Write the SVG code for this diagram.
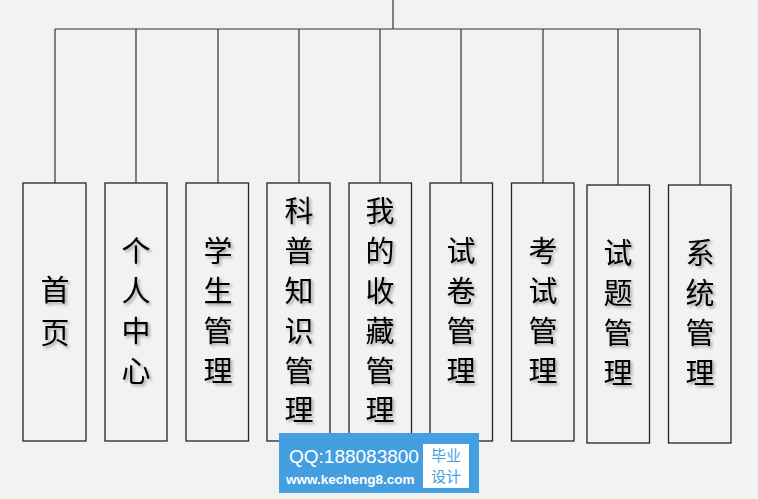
<svg xmlns="http://www.w3.org/2000/svg" width="758" height="499" viewBox="0 0 758 499">
<defs>
<filter id="sh" x="-30%" y="-30%" width="160%" height="160%">
<feGaussianBlur in="SourceAlpha" stdDeviation="1.5"/>
<feOffset dx="2" dy="2" result="b"/>
<feComponentTransfer><feFuncA type="linear" slope="0.35"/></feComponentTransfer>
<feMerge><feMergeNode/><feMergeNode in="SourceGraphic"/></feMerge>
</filter>
</defs>
<style>
.box{fill:#f2f2f2;stroke:#222;stroke-width:1.3}
.lbl{font-family:"Noto Sans CJK SC","Noto Sans",sans-serif;font-size:29px;fill:#000;text-anchor:middle;filter:url(#sh)}
.ln{stroke:#333;stroke-width:1.2;fill:none}
.wm{font-family:"Noto Sans CJK SC",sans-serif;font-size:15px;fill:#449fe0;text-anchor:middle}
</style>
<rect width="758" height="499" fill="#f2f2f2"/>
<g id="connectors">
<path class="ln" d="M393,0V29M55,29H700M55,29V183M136,29V183M218,29V183M299,29V183M380,29V183M461,29V183M543,29V183M618,29V185M700,29V185"/>
</g>
<g id="n1"><rect class="box" x="23" y="183" width="63" height="258"/>
<text class="lbl" x="55"><tspan x="55" y="301">首</tspan><tspan x="55" y="344">页</tspan></text></g>
<g id="n2"><rect class="box" x="105" y="183" width="62" height="258"/>
<text class="lbl" x="136"><tspan x="136" y="262">个</tspan><tspan x="136" y="302">人</tspan><tspan x="136" y="342">中</tspan><tspan x="136" y="382">心</tspan></text></g>
<g id="n3"><rect class="box" x="186" y="183" width="62.5" height="258"/>
<text class="lbl"><tspan x="218" y="262">学</tspan><tspan x="218" y="302">生</tspan><tspan x="218" y="342">管</tspan><tspan x="218" y="382">理</tspan></text></g>
<g id="n4"><rect class="box" x="267" y="183" width="63" height="258"/>
<text class="lbl"><tspan x="299" y="222">科</tspan><tspan x="299" y="262">普</tspan><tspan x="299" y="302">知</tspan><tspan x="299" y="342">识</tspan><tspan x="299" y="382">管</tspan><tspan x="299" y="421">理</tspan></text></g>
<g id="n5"><rect class="box" x="349" y="183" width="62.5" height="258"/>
<text class="lbl"><tspan x="380" y="222">我</tspan><tspan x="380" y="262">的</tspan><tspan x="380" y="302">收</tspan><tspan x="380" y="342">藏</tspan><tspan x="380" y="382">管</tspan><tspan x="380" y="421">理</tspan></text></g>
<g id="n6"><rect class="box" x="430" y="183" width="62.5" height="258"/>
<text class="lbl"><tspan x="461" y="262">试</tspan><tspan x="461" y="302">卷</tspan><tspan x="461" y="342">管</tspan><tspan x="461" y="382">理</tspan></text></g>
<g id="n7"><rect class="box" x="511.5" y="183" width="62.5" height="258"/>
<text class="lbl"><tspan x="543" y="262">考</tspan><tspan x="543" y="302">试</tspan><tspan x="543" y="342">管</tspan><tspan x="543" y="382">理</tspan></text></g>
<g id="n8"><rect class="box" x="587" y="185" width="62.5" height="258"/>
<text class="lbl"><tspan x="618" y="264">试</tspan><tspan x="618" y="304">题</tspan><tspan x="618" y="344">管</tspan><tspan x="618" y="384">理</tspan></text></g>
<g id="n9"><rect class="box" x="668.5" y="185" width="62.5" height="258"/>
<text class="lbl"><tspan x="700" y="264">系</tspan><tspan x="700" y="304">统</tspan><tspan x="700" y="344">管</tspan><tspan x="700" y="384">理</tspan></text></g>
<g id="watermark">
<rect x="279" y="433" width="200" height="60" fill="#449fe0"/>
<text x="289" y="463" font-family="Liberation Sans,Arial,sans-serif" font-size="19" fill="#fff">QQ:188083800</text>
<text x="286" y="484" font-family="Liberation Sans,Arial,sans-serif" font-size="13.5" font-weight="bold" fill="#fff">www.kecheng8.com</text>
<rect x="423" y="444" width="46" height="44" fill="#fff"/>
<text class="wm" x="446" y="461">毕业</text>
<text class="wm" x="446" y="482">设计</text>
</g>
</svg>
